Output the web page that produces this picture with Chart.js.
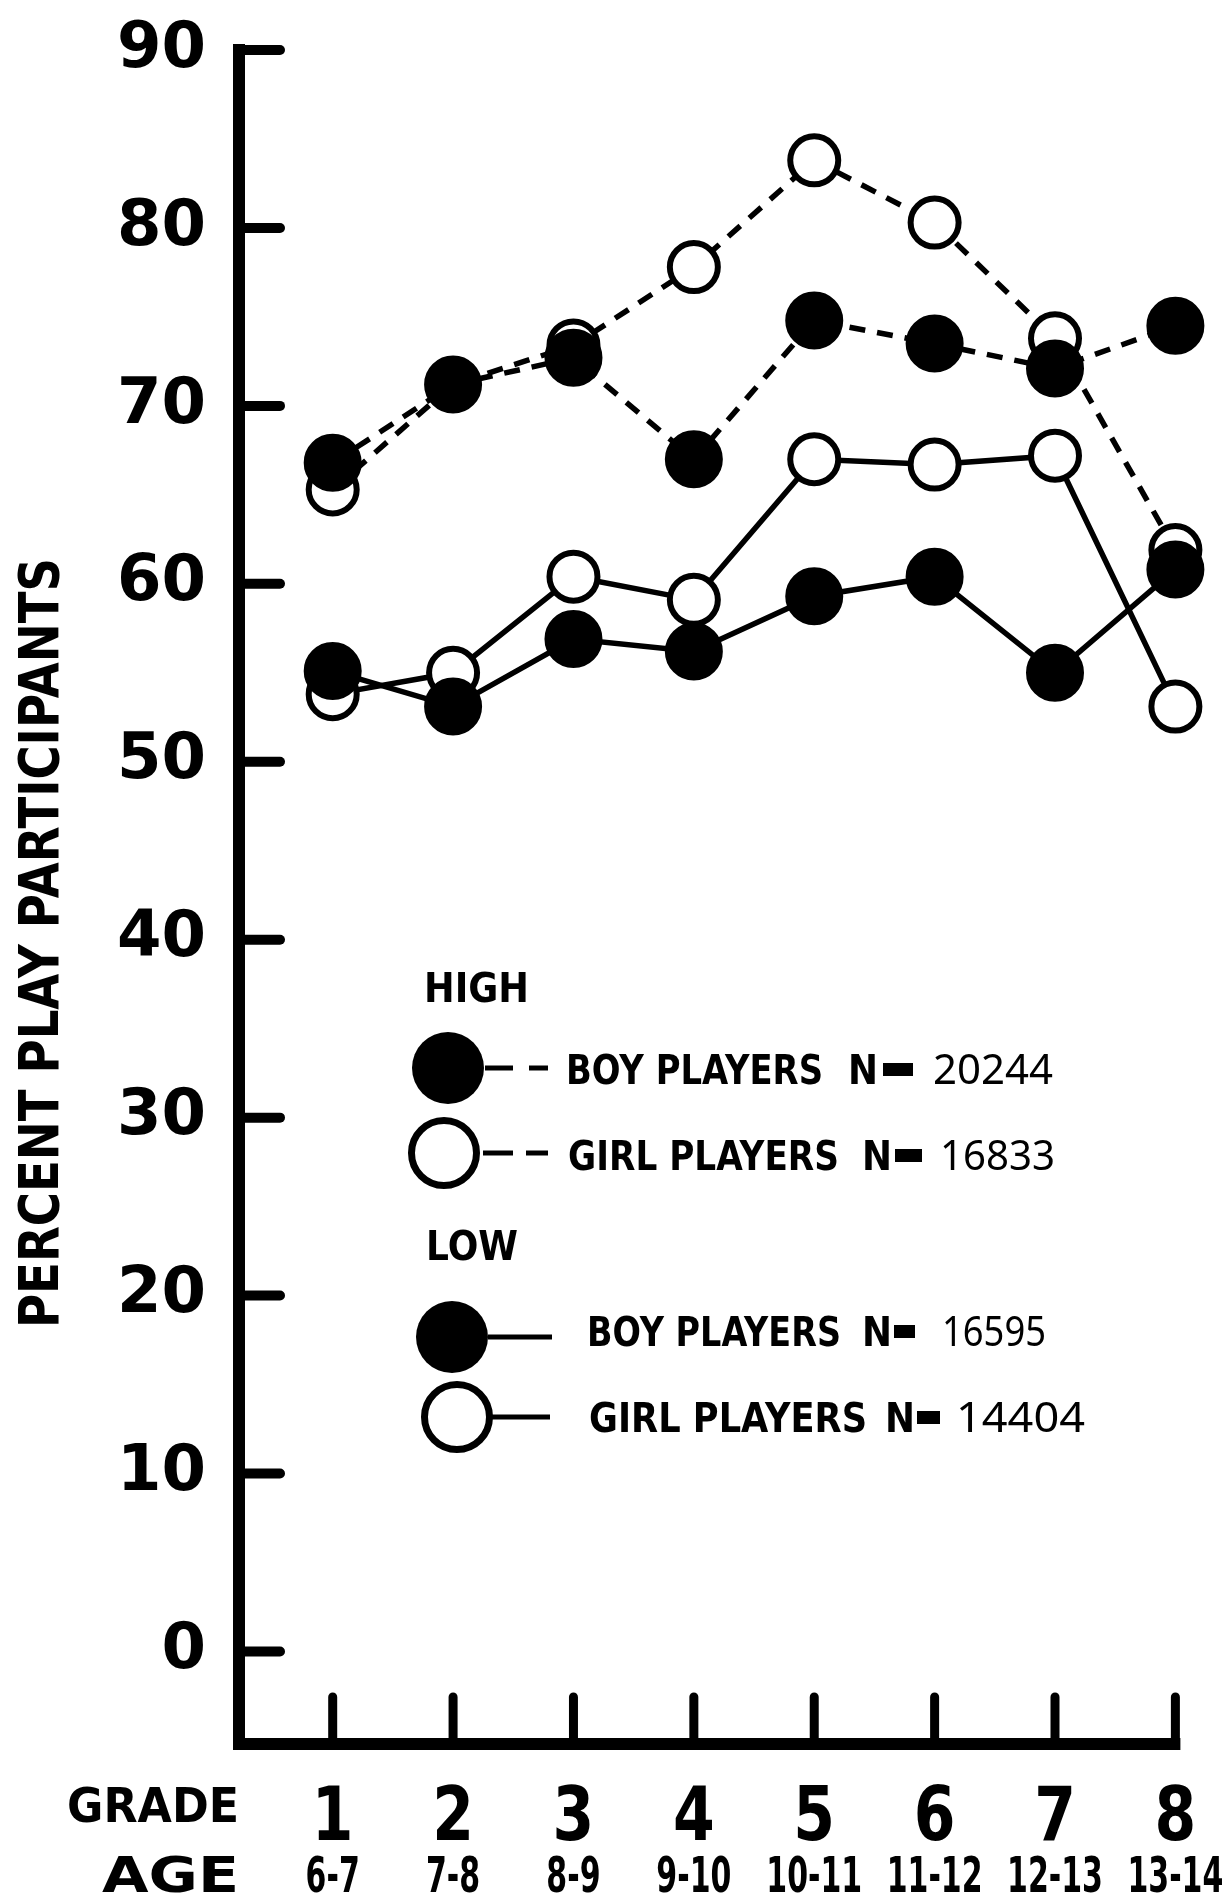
<!DOCTYPE html>
<html>
<head>
<meta charset="utf-8">
<script src="https://cdn.jsdelivr.net/npm/chart.js@4.4.1/dist/chart.umd.min.js"></script>
<style>
  html, body { margin: 0; padding: 0; background: #fff; }
  canvas { display: block; }
</style>
</head>
<body>
<canvas id="playChart" width="1229" height="1902"></canvas>
<script>
'use strict';

// grades on the x axis, with the age range under each one
const grades = [1, 2, 3, 4, 5, 6, 7, 8];
const ages = ['6-7', '7-8', '8-9', '9-10', '10-11', '11-12', '12-13', '13-14'];
const yTicks = [0, 10, 20, 30, 40, 50, 60, 70, 80, 90];

// percent play participants per grade
const highBoys = [66.8, 71.2, 72.7, 67.0, 74.8, 73.5, 72.1, 74.5];
const highGirls = [65.3, 71.2, 73.4, 77.8, 83.8, 80.3, 73.8, 61.9];
const lowBoys = [55.1, 53.1, 56.9, 56.2, 59.3, 60.4, 55.0, 60.8];
const lowGirls = [53.8, 55.0, 60.4, 59.1, 67.0, 66.7, 67.2, 53.1];

// legend text
const groupNames = ['HIGH', 'LOW'];
const playerLabels = ['BOY PLAYERS', 'GIRL PLAYERS', 'BOY PLAYERS', 'GIRL PLAYERS'];
const playerCounts = [20244, 16833, 16595, 14404];

const BOLD = 'bold {s}px "DejaVu Sans"';
const font = (s, w) => (w === 'normal' ? 'normal ' + s + 'px "Noto Sans"' : BOLD.replace('{s}', s));

// draw text squeezed/stretched horizontally so it spans `width` px
function fitText(ctx, text, x, base, width, size, align, weight) {
  ctx.save();
  ctx.font = font(size, weight);
  const w = ctx.measureText(text).width;
  ctx.translate(x, base);
  ctx.scale(width / w, 1);
  ctx.textAlign = align;
  ctx.textBaseline = 'alphabetic';
  ctx.fillStyle = '#000';
  ctx.fillText(text, 0, 0);
  ctx.restore();
}

function scaledText(ctx, text, x, base, sx, size, align) {
  ctx.save();
  ctx.font = font(size);
  ctx.translate(x, base);
  ctx.scale(sx, 1);
  ctx.textAlign = align;
  ctx.textBaseline = 'alphabetic';
  ctx.fillStyle = '#000';
  ctx.fillText(text, 0, 0);
  ctx.restore();
}

function marker(ctx, x, y, r, filled) {
  ctx.beginPath();
  if (filled) {
    ctx.arc(x, y, r, 0, Math.PI * 2);
    ctx.fillStyle = '#000';
    ctx.fill();
  } else {
    ctx.arc(x, y, r - 3.5, 0, Math.PI * 2);
    ctx.fillStyle = '#fff';
    ctx.fill();
    ctx.lineWidth = 7;
    ctx.strokeStyle = '#000';
    ctx.stroke();
  }
}

function seg(ctx, x1, y1, x2, y2, w, cap) {
  ctx.beginPath();
  ctx.lineWidth = w;
  ctx.lineCap = cap || 'butt';
  ctx.moveTo(x1, y1);
  ctx.lineTo(x2, y2);
  ctx.stroke();
}

// heavy axes with inward ticks, like the printed figure
const axesPlugin = {
  id: 'inkAxes',
  beforeDatasetsDraw(chart) {
    const { ctx, chartArea: a, scales: { x, y } } = chart;
    ctx.save();
    ctx.strokeStyle = '#000';
    const right = x.getPixelForValue(grades[grades.length - 1]);
    seg(ctx, a.left - 1, a.top - 6, a.left - 1, a.bottom + 6, 12);
    seg(ctx, a.left - 7, a.bottom, right + 5, a.bottom, 12);
    for (const v of yTicks) {
      const py = y.getPixelForValue(v);
      seg(ctx, a.left, py, a.left + 40, py, 10, 'round');
    }
    for (const g of grades) {
      const px = x.getPixelForValue(g);
      seg(ctx, px, a.bottom, px, a.bottom - 47, 9, 'round');
    }
    ctx.restore();
  },
  afterDraw(chart) {
    const { ctx, scales: { x } } = chart;
    ctx.save();

    // y axis title
    ctx.translate(38, 943);
    ctx.rotate(-Math.PI / 2);
    fitText(ctx, 'PERCENT PLAY PARTICIPANTS', 0, 20, 770, 56, 'center');
    ctx.restore();

    // grade and age rows
    fitText(ctx, 'GRADE', 239, 1822, 172, 48, 'right');
    fitText(ctx, 'AGE', 239, 1892, 137, 50, 'right');
    grades.forEach((g, i) => {
      const px = x.getPixelForValue(g);
      scaledText(ctx, String(g), px, 1840, 0.8, 75, 'center');
      scaledText(ctx, ages[i], px, 1892, 0.6, 50, 'center');
    });

    // legend
    ctx.save();
    ctx.strokeStyle = '#000';
    fitText(ctx, groupNames[0], 424, 1002, 105, 40, 'left');
    fitText(ctx, groupNames[1], 426, 1260, 92, 40, 'left');

    const rows = [
      { m: [448, 1068], filled: true, stubs: [[485, 513], [529, 548]], cy: 1069, lab: [566, 823], n: [848, 878], eq: [883, 913], num: [933, 1053] },
      { m: [444, 1153], filled: false, stubs: [[483, 513], [526, 548]], cy: 1155, lab: [568, 839], n: [862, 892], eq: [895, 922], num: [940, 1055] },
      { m: [452, 1337], filled: true, stubs: [[488, 552]], cy: 1331, lab: [587, 841], n: [862, 892], eq: [894, 915], num: [942, 1046] },
      { m: [457, 1417], filled: false, stubs: [[490, 550]], cy: 1417, lab: [589, 867], n: [885, 915], eq: [917, 940], num: [956, 1085] }
    ];
    rows.forEach((r, i) => {
      for (const [s, e] of r.stubs) seg(ctx, s, r.m[1], e, r.m[1], 5);
      marker(ctx, r.m[0], r.m[1], 36, r.filled);
      const base = r.cy + 15;
      fitText(ctx, playerLabels[i], r.lab[0], base, r.lab[1] - r.lab[0], 41, 'left');
      fitText(ctx, 'N', r.n[0], base, r.n[1] - r.n[0], 41, 'left');
      // the printed "=" has inked into one solid bar
      ctx.fillStyle = '#000';
      ctx.fillRect(r.eq[0], r.cy - 6, r.eq[1] - r.eq[0], 13);
      fitText(ctx, String(playerCounts[i]), r.num[0], base, r.num[1] - r.num[0], 42, 'left', 'normal');
    });
    ctx.restore();
  }
};

const points = vals => grades.map((g, i) => ({ x: g, y: vals[i] }));

const openStyle = {
  pointRadius: 24, pointBorderWidth: 6,
  pointBackgroundColor: '#fff', pointBorderColor: '#000'
};
const filledStyle = {
  pointRadius: 28, pointBorderWidth: 2,
  pointBackgroundColor: '#000', pointBorderColor: '#000'
};

new Chart(document.getElementById('playChart'), {
  type: 'line',
  data: {
    datasets: [
      { label: 'High girl players', data: points(highGirls), borderDash: [16, 12], order: 2, ...openStyle },
      { label: 'Low girl players', data: points(lowGirls), order: 2, ...openStyle },
      { label: 'High boy players', data: points(highBoys), borderDash: [16, 12], order: 1, ...filledStyle },
      { label: 'Low boy players', data: points(lowBoys), order: 1, ...filledStyle }
    ].map(d => ({ borderColor: '#000', borderWidth: 5.5, tension: 0, fill: false, clip: false, ...d }))
  },
  options: {
    responsive: false,
    devicePixelRatio: 1,
    animation: false,
    events: [],
    layout: { padding: { top: 50, right: 50, left: 0, bottom: 0 } },
    plugins: { legend: { display: false }, tooltip: { enabled: false } },
    scales: {
      x: {
        type: 'linear', min: 0.23, max: 8.03,
        grid: { display: false }, border: { display: false },
        ticks: { display: false },
        afterFit: s => { s.height = 158; s.paddingLeft = 0; s.paddingRight = 0; }
      },
      y: {
        min: -5.2, max: 90,
        grid: { display: false, drawTicks: false }, border: { display: false },
        ticks: {
          color: '#000', padding: 34,
          font: { family: 'DejaVu Sans', weight: 'bold', size: 64 }
        },
        afterBuildTicks: s => { s.ticks = yTicks.map(v => ({ value: v })); },
        afterFit: s => { s.width = 240; s.paddingTop = 0; s.paddingBottom = 0; }
      }
    }
  },
  plugins: [axesPlugin]
});
</script>
</body>
</html>
